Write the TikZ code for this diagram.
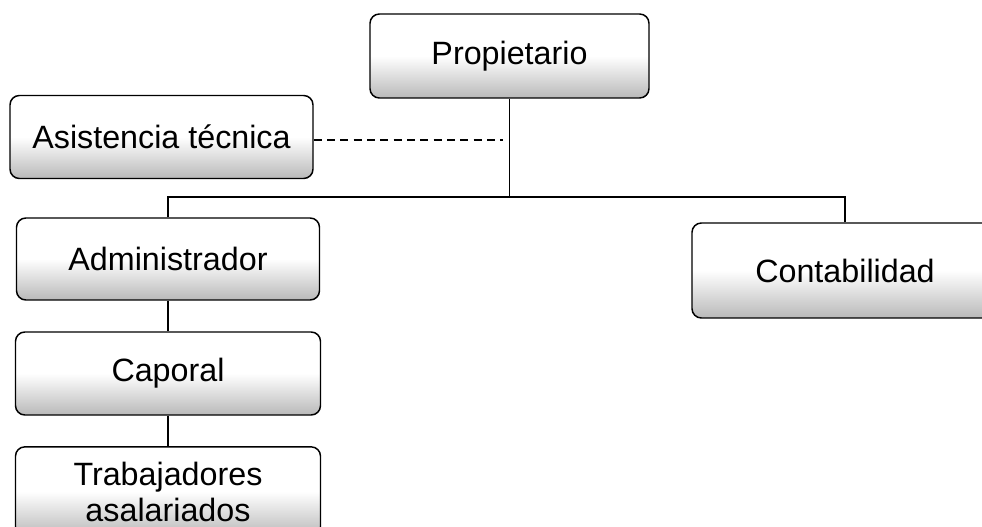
\documentclass[tikz,border=0pt]{standalone}
\usepackage{fontspec}
\setmainfont{Liberation Sans}
\tikzset{
	cargo/.style = {draw, line width=1.1pt, rounded corners=7pt, align=center,
		top color=white, bottom color=gray!55, middle color=white,
		font=\fontsize{24.2}{27}\selectfont, inner sep=0pt},
	enlace/.style = {line width=0.9pt}
}

\begin{document}
\begin{tikzpicture}[x=0.75pt, y=-0.75pt]
	\useasboundingbox (0,0) rectangle (982,527);
		\node[cargo, minimum width=209.25pt, minimum height=63pt] (prop) at (509.5,56) {Propietario};
		\node[cargo, minimum width=227.25pt, minimum height=62.25pt] (asist) at (161.5,137) {Asistencia técnica};
		\node[cargo, minimum width=227.25pt, minimum height=61.5pt] (admin) at (168,259) {Administrador};
		\node[cargo, minimum width=228.75pt, minimum height=62.25pt] (capo) at (168,373.5) {Caporal};
		\node[cargo, minimum width=228.75pt, minimum height=67pt] (trab) at (168,491.5) {Trabajadores\\asalariados};
		\node[cargo, minimum width=229.5pt, minimum height=71.25pt] (conta) at (845,270.5) {Contabilidad};
		\coordinate (split) at (509.5,197);
		\coordinate (dashend) at (503,140);
	%	enlaces
		\draw[enlace] (prop) -- (split);
		\draw[enlace] (admin) |- (split);
		\draw[enlace] (conta) |- (split);
		\draw[enlace] (admin) -- (capo);
		\draw[enlace] (capo) -- (trab);
		\draw[enlace, dash pattern=on 6pt off 4pt] (asist.east |- dashend) -- (dashend);
	\end{tikzpicture}
\end{document}
